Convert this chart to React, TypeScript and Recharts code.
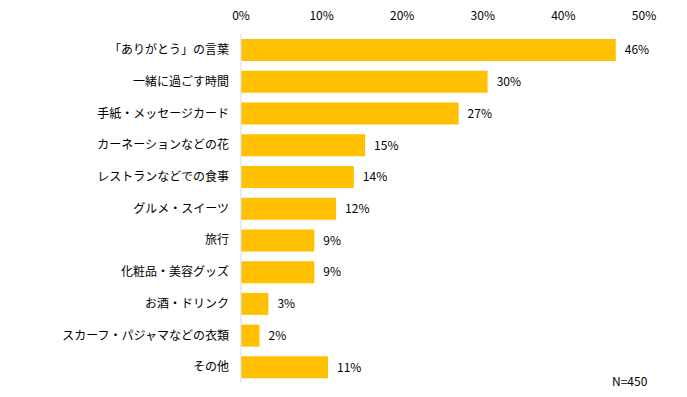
import { BarChart, Bar, XAxis, YAxis, LabelList } from "recharts";

const categories = [
  "「ありがとう」の言葉",
  "一緒に過ごす時間",
  "手紙・メッセージカード",
  "カーネーションなどの花",
  "レストランなどでの食事",
  "グルメ・スイーツ",
  "旅行",
  "化粧品・美容グッズ",
  "お酒・ドリンク",
  "スカーフ・パジャマなどの衣類",
  "その他",
];
const values = [46.5, 30.6, 27.0, 15.4, 14.0, 11.8, 9.1, 9.1, 3.4, 2.3, 10.8];
const valueLabels = ["46%", "30%", "27%", "15%", "14%", "12%", "9%", "9%", "3%", "2%", "11%"];
const xTicks = [0, 10, 20, 30, 40, 50];

const data = categories.map((name, i) => ({ name, value: values[i], label: valueLabels[i] }));

const font = "'Noto Sans CJK JP', sans-serif";

export default function App() {
  const tickStyle = { fontSize: 12, fontFamily: font, fill: "#000000" };
  return (
    <div style={{ position: "absolute", left: 0, top: 0, width: 687, height: 397, background: "#fff" }}>
      <BarChart
        layout="vertical"
        width={687}
        height={397}
        data={data}
        margin={{ top: 0, right: 43, left: 0, bottom: 14 }}
        barCategoryGap="16%"
      >
        <XAxis
          type="number"
          orientation="top"
          domain={[0, 50]}
          ticks={xTicks}
          tickFormatter={(v: number) => `${v}%`}
          axisLine={false}
          tickLine={false}
          tickMargin={8}
          height={34}
          tick={tickStyle}
        />
        <YAxis
          type="category"
          dataKey="name"
          width={241}
          axisLine={{ stroke: "#D9D9D9" }}
          tickLine={false}
          tickMargin={6}
          tick={tickStyle}
          interval={0}
        />
        <Bar dataKey="value" fill="#FFC000" isAnimationActive={false}>
          <LabelList dataKey="label" position="right" offset={9} style={tickStyle} />
        </Bar>
      </BarChart>
      <div style={{ position: "absolute", left: 612, top: 372, fontSize: 12, fontFamily: font, color: "#000" }}>
        N=450
      </div>
    </div>
  );
}
